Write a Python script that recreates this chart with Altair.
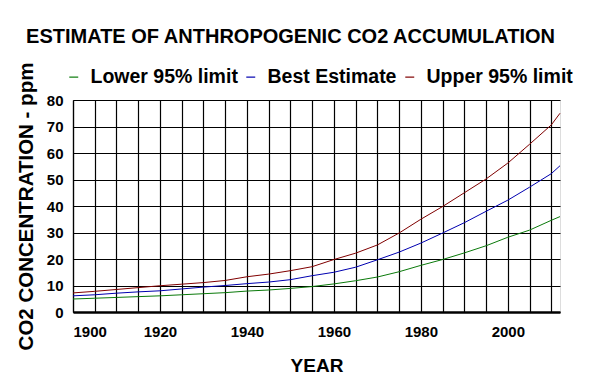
import altair as alt
import pandas as pd

years = [1900, 1905, 1910, 1915, 1920, 1925, 1930, 1935, 1940, 1945, 1950, 1955,
         1960, 1965, 1970, 1975, 1980, 1985, 1990, 1995, 2000, 2005, 2010, 2012]
lower = [4.9, 5.2, 5.5, 5.8, 6.1, 6.5, 6.9, 7.3, 7.9, 8.3, 8.9, 9.6,
         10.6, 11.8, 13.2, 15.2, 17.6, 19.8, 22.3, 25.0, 28.2, 30.9, 34.6, 36.0]
best = [6.1, 6.5, 7.1, 7.6, 8.0, 8.7, 9.4, 10.0, 10.7, 11.3, 12.2, 13.7,
        15.0, 16.9, 19.7, 22.6, 26.0, 29.8, 33.7, 38.0, 42.2, 47.1, 52.2, 55.2]
upper = [7.2, 7.8, 8.5, 9.2, 9.9, 10.5, 11.1, 11.9, 13.3, 14.3, 15.6, 17.1,
         19.8, 22.2, 25.3, 29.8, 35.0, 39.8, 45.0, 50.2, 56.2, 63.3, 70.6, 75.0]

series_names = ["Lower 95% limit", "Best Estimate", "Upper 95% limit"]
series_colors = ["#0a7a0a", "#0000b0", "#800000"]
x_ticks = list(range(1900, 2015, 5))
y_ticks = list(range(0, 90, 10))

rows = []
for name, vals in zip(series_names, [lower, best, upper]):
    for yr, v in zip(years, vals):
        rows.append({"year": yr, "value": v, "series": name})
df = pd.DataFrame(rows)

FONT = "Liberation Sans"

chart = alt.Chart(df).mark_line(strokeWidth=1).encode(
    x=alt.X("year:Q",
            scale=alt.Scale(domain=[1900, 2012], nice=False, zero=False),
            axis=alt.Axis(values=x_ticks, format="d", title="YEAR",
                          labelExpr="datum.value % 20 == 0 ? datum.label : ''",
                          grid=True, gridColor="black", gridOpacity=1, gridWidth=1.2,
                          ticks=False, domainColor="black", domainWidth=2.5,
                          labelFont=FONT, labelFontWeight="bold", labelFontSize=15,
                          labelColor="black", labelPadding=12,
                          titleFont=FONT, titleFontWeight="bold", titleFontSize=19,
                          titleColor="black", titlePadding=17)),
    y=alt.Y("value:Q",
            scale=alt.Scale(domain=[0, 80], nice=False),
            axis=alt.Axis(values=y_ticks, title="CO2 CONCENTRATION - ppm",
                          grid=True, gridColor="black", gridOpacity=1, gridWidth=1.2,
                          ticks=False, domainColor="black", domainWidth=1.2,
                          labelFont=FONT, labelFontWeight="bold", labelFontSize=15,
                          labelColor="black", labelPadding=10,
                          titleFont=FONT, titleFontWeight="bold", titleFontSize=20.5,
                          titleColor="black", titlePadding=10)),
    color=alt.Color("series:N",
                    scale=alt.Scale(domain=series_names, range=series_colors),
                    sort=series_names,
                    legend=alt.Legend(orient="none", direction="horizontal",
                                      legendX=-9, legendY=-33, title=None,
                                      symbolType="stroke", symbolSize=80,
                                      symbolStrokeWidth=1.2, labelOffset=7,
                                      columnPadding=3,
                                      labelFont=FONT, labelFontWeight="bold",
                                      labelFontSize=19.5, labelColor="black")),
).properties(
    width=487,
    height=212,
    title=alt.TitleParams("ESTIMATE OF ANTHROPOGENIC CO2 ACCUMULATION",
                          font=FONT, fontWeight="bold", fontSize=20,
                          color="black", anchor="middle", dx=-26, offset=15),
    autosize=alt.AutoSizeParams(type="none"),
    padding={"left": 65, "top": 92, "right": 20, "bottom": 62},
).configure_view(
    stroke="black", strokeWidth=1.2
).configure(background="white")

chart.save("out.html", embed_options={"renderer": "svg", "actions": False})
